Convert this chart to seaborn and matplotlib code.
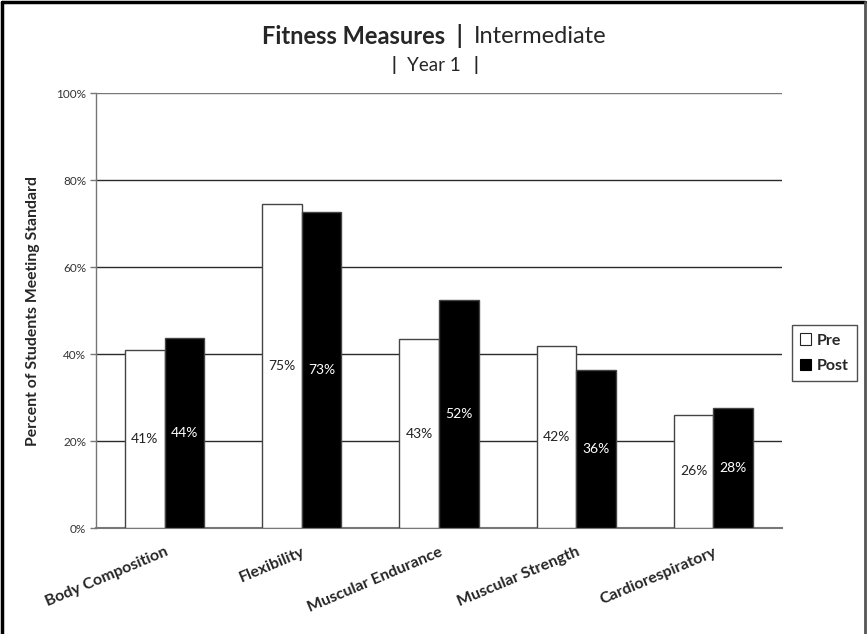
import matplotlib
matplotlib.use("Agg")
import matplotlib.pyplot as plt
from matplotlib.patches import Patch
from matplotlib.lines import Line2D
import seaborn as sns
import pandas as pd

# Fitness measure results, percent of students meeting standard
measures = ["Body Composition", "Flexibility", "Muscular Endurance",
            "Muscular Strength", "Cardiorespiratory"]
pre = [40.9, 74.6, 43.4, 41.8, 26.1]
post = [43.6, 72.7, 52.4, 36.3, 27.7]
y_ticks = [0, 20, 40, 60, 80, 100]

df = pd.DataFrame({
    "measure": measures * 2,
    "value": pre + post,
    "time": ["Pre"] * len(measures) + ["Post"] * len(measures),
})

sns.set_theme(style="white")
FONT = ["Lato", "DejaVu Sans"]
plt.rcParams["font.family"] = FONT

fig = plt.figure(figsize=(8.67, 6.34), dpi=100)
ax = fig.add_axes([0.1107, 0.167, 0.7913, 0.686])

sns.barplot(data=df, x="measure", y="value", hue="time",
            palette={"Pre": "white", "Post": "black"},
            width=0.577, gap=0, dodge=True, ax=ax, legend=False,
            edgecolor="#444444", linewidth=1.0, zorder=3)

# bar labels at mid-height
for cont, color in zip(ax.containers, ["#222222", "white"]):
    for bar in cont:
        h = bar.get_height()
        ax.text(bar.get_x() + bar.get_width() / 2, h / 2, f"{h:.0f}%",
                ha="center", va="center", fontsize=10, color=color, zorder=4)

ax.set_ylim(0, 100)
ax.set_xlim(-0.5, len(measures) - 0.5)
ax.set_yticks(y_ticks)
ax.set_yticklabels([f"{t}%" for t in y_ticks], fontsize=8.5, color="#333333")
for t in y_ticks[1:]:
    ax.axhline(t, color="#2a2a2a" if t < 100 else "#777777", lw=1.0, zorder=1)

ax.set_xticks(range(len(measures)))
ax.set_xticklabels(measures, rotation=23, ha="right", rotation_mode="anchor",
                   fontsize=11.5, fontweight="bold")
ax.tick_params(axis="x", length=0, pad=12)
ax.tick_params(axis="y", length=4, width=1, color="#777777", direction="out",
               left=True, pad=3)

ax.set_xlabel("")
ax.set_ylabel("Percent of Students Meeting Standard", fontsize=11.3,
              fontweight="bold", labelpad=12)

for side in ["top", "right"]:
    ax.spines[side].set_visible(False)
ax.spines["left"].set_color("#777777")
ax.spines["bottom"].set_color("#777777")
ax.spines["left"].set_linewidth(1.0)
ax.spines["bottom"].set_linewidth(1.5)

# title: bold part and regular part
fig.text(0.547, 0.943, "Fitness Measures  |  ", ha="right", va="center",
         fontsize=17, fontweight="bold")
fig.text(0.547, 0.943, "Intermediate", ha="left", va="center", fontsize=17)
fig.text(0.5, 0.897, "Year 1", ha="center", va="center", fontsize=13.5)
fig.text(0.4545, 0.897, "|", ha="center", va="center", fontsize=13.5,
         fontweight="bold")
fig.text(0.5485, 0.897, "|", ha="center", va="center", fontsize=13.5,
         fontweight="bold")

handles = [Patch(facecolor="white", edgecolor="#222222", lw=0.8, label="Pre"),
           Patch(facecolor="black", edgecolor="black", lw=0.8, label="Post")]
leg = fig.legend(handles=handles, loc="center left",
                 bbox_to_anchor=(0.913, 0.443), frameon=True, fancybox=False,
                 edgecolor="#222222", handlelength=0.7, handleheight=0.7,
                 handletextpad=0.4, borderpad=0.5, labelspacing=0.7,
                 borderaxespad=0,
                 prop={"family": FONT, "weight": "bold", "size": 11.5})
leg.get_frame().set_linewidth(1.0)

# outer border on three sides
fig.add_artist(Line2D([0.002, 0.002], [0, 0.997], transform=fig.transFigure,
                      color="black", lw=2.5))
fig.add_artist(Line2D([0.002, 0.998], [0.997, 0.997], transform=fig.transFigure,
                      color="black", lw=2.5))
fig.add_artist(Line2D([0.998, 0.998], [0, 0.997], transform=fig.transFigure,
                      color="#555555", lw=2))

fig.savefig("out.png", dpi=100, facecolor="white")
